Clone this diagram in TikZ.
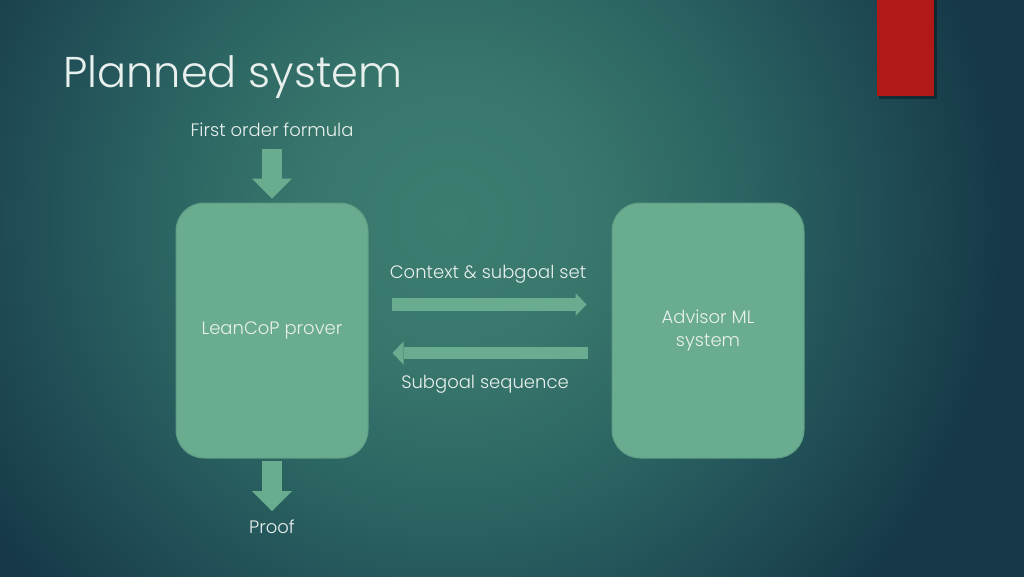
\documentclass[tikz,border=0pt]{standalone}
\usepackage{fontspec}
\setmainfont{Poppins}[UprightFont=* Light]
\usetikzlibrary{arrows.meta}

\definecolor{bgin}{HTML}{3D7D70}
\definecolor{bgin2}{HTML}{39776C}
\definecolor{bgmid}{HTML}{2C6663}
\definecolor{bgmid2}{HTML}{1F4B55}
\definecolor{bgout}{HTML}{163848}
\definecolor{boxfill}{HTML}{6AAC8F}
\definecolor{boxline}{HTML}{5E9E85}
\definecolor{txt}{HTML}{E8F0ED}
\definecolor{tabred}{HTML}{AF1A18}
\pgfdeclareradialshading{slidebg}{\pgfpoint{0bp}{0bp}}{color(0bp)=(bgin); color(5bp)=(bgin2); color(10bp)=(bgmid); color(16bp)=(bgmid2); color(20bp)=(bgout); color(50bp)=(bgout)}

\begin{document}
\begin{tikzpicture}[x=0.75pt,y=0.75pt,yscale=-1,xscale=1,
  box/.style={draw=boxline, line width=0.75pt, fill=boxfill, rounded corners=21pt,
    minimum width=144pt, minimum height=191.25pt, text=txt,
    font=\fontsize{13.5}{17.25}\selectfont, align=center},
  lbl/.style={text=txt, font=\fontsize{13.5}{17.25}\selectfont, inner sep=0pt},
  flowv/.style={draw=boxfill, line width=14.6pt, -{Triangle[width=30pt,length=15pt,line width=0pt]}},
  flowh/.style={draw=boxfill, line width=9.5pt, -{Triangle[width=17.25pt,length=8.25pt,line width=0pt]}}]
%set diagram frame 1024 x 576
\useasboundingbox (0,0) rectangle (1024,576);
\clip (0,0) rectangle (1024,576);
\fill[bgout] (0,0) rectangle (1024,576);
\shade[shading=slidebg] (450,220) circle [radius=520pt];

%Red tab
\fill[black, opacity=0.35] (879,0) rectangle (937,99);
\fill[tabred] (877,0) rectangle (934,96);

% Title
\node[anchor=base west, text=txt, font=\fontsize{32.3}{36}\selectfont, inner sep=0pt] (title) at (63,87) {Planned system};

% Boxes
\node[box] (prover) at (272,330.5) {LeanCoP prover};
\node[box] (advisor) at (708,330.5) {Advisor ML\\system};

% Text Node
\node[lbl, anchor=base] (formula) at (272,136) {First order formula};
% Text Node
\node[lbl, anchor=base] (proof) at (272,533) {Proof};
% Text Node
\node[lbl, anchor=base] (ctx) at (488,278) {Context \& subgoal set};
% Text Node
\node[lbl, anchor=base] (seq) at (485,388) {Subgoal sequence};

% Arrows
\draw[flowv, shorten <=14.6pt, shorten >=3pt] (formula.center) -- (prover.north);
\draw[flowv, shorten <=1.5pt, shorten >=6pt] (prover.south) -- (proof.north);
\draw[flowh, shorten <=17.25pt, shorten >=18.75pt] (prover.east |- 0,304.5) -- (advisor.west |- 0,304.5);
\draw[flowh, shorten <=18pt, shorten >=18pt] (advisor.west |- 0,353) -- (prover.east |- 0,353);

\end{tikzpicture}
\end{document}
